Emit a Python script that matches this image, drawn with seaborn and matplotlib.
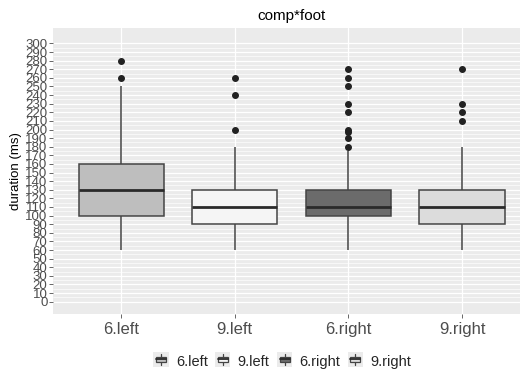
import numpy as np
import pandas as pd
import matplotlib
matplotlib.use('Agg')
import matplotlib.pyplot as plt
from matplotlib.lines import Line2D
from matplotlib.patches import Patch, Rectangle
import seaborn as sns

groups = ['6.left', '9.left', '6.right', '9.right']
dur_6_left = [60, 80, 90, 100, 110, 120, 130, 140, 150, 160, 250, 260, 280]
dur_9_left = [60, 70, 80, 90, 90, 100, 100, 110, 110, 110, 120, 120, 130,
              180, 200, 240, 260]
dur_6_right = [60, 70, 80, 80, 90, 90, 90, 100, 100, 100, 100,
               100, 100, 100, 100, 110, 110, 110, 110, 110, 110,
               110, 110, 120, 120, 120, 120, 120, 130, 130, 130,
               175, 180, 190, 197, 200, 220, 230, 250, 260, 270]
dur_9_right = [60, 70, 80, 80, 90, 90, 90, 100, 100, 110, 110,
               110, 120, 120, 120, 130, 180, 210, 220, 230, 270]
fills = ['#bebebe', '#f5f5f5', '#6b6b6b', '#dcdcdc']
y_ticks = list(range(0, 301, 10))

df = pd.concat([
    pd.DataFrame({'group': g, 'duration': d})
    for g, d in zip(groups, [dur_6_left, dur_9_left, dur_6_right, dur_9_right])
], ignore_index=True)

sns.set_theme(style='darkgrid')
plt.rcParams['font.family'] = ['Liberation Sans', 'DejaVu Sans']

edge = '#444444'


class BoxKey:
    # ggplot-like boxplot legend key
    def legend_artist(self, legend, orig_handle, fontsize, handlebox):
        x0, y0 = handlebox.xdescent, handlebox.ydescent
        w, h = handlebox.width, handlebox.height
        tr = handlebox.get_transform()
        bg = Rectangle((x0 - 1, y0 - 1), w + 2, h + 2, facecolor='#ebebeb',
                       edgecolor='none', transform=tr)
        whisk = Line2D([x0 + w / 2, x0 + w / 2], [y0 + 0.05 * h, y0 + 0.95 * h],
                       color=edge, linewidth=0.9, transform=tr)
        box = Rectangle((x0 + 0.1 * w, y0 + 0.27 * h), 0.8 * w, 0.46 * h,
                        facecolor=orig_handle.get_facecolor(), edgecolor=edge,
                        linewidth=0.9, transform=tr)
        med = Line2D([x0 + 0.1 * w, x0 + 0.9 * w], [y0 + h / 2, y0 + h / 2],
                     color='#2a2a2a', linewidth=1.3, transform=tr)
        for a in (bg, whisk, box, med):
            handlebox.add_artist(a)
        return box


fig = plt.figure(figsize=(5.2, 3.71), dpi=100)
ax = fig.add_axes([53 / 520, 57 / 371, 467 / 520, 286 / 371])
ax.set_facecolor('#ebebeb')

sns.boxplot(data=df, x='group', y='duration', hue='group', order=groups,
            hue_order=groups, palette=dict(zip(groups, fills)), width=0.75,
            linewidth=1.1, linecolor=edge, showcaps=False, legend=False,
            medianprops=dict(color='#2a2a2a', linewidth=2.0),
            flierprops=dict(marker='o', markersize=4.0, markerfacecolor='#222222',
                            markeredgecolor='#222222'),
            ax=ax)

ax.set_xlim(-0.6, 3.51)
ax.set_ylim(-14.3, 317.9)
ax.set_yticks(y_ticks)
ax.set_yticklabels([str(v) for v in y_ticks])
ax.set_yticks(np.arange(5, 300, 10), minor=True)
ax.grid(which='major', color='white', linewidth=0.9)
ax.grid(which='minor', axis='y', color='white', linewidth=0.45)
ax.set_axisbelow(True)
for s in ax.spines.values():
    s.set_visible(False)

ax.tick_params(axis='y', which='major', labelsize=9.5, colors='#4d4d4d',
               length=3, width=0.6, pad=1, left=True)
ax.tick_params(axis='y', which='minor', length=0, left=False)
ax.tick_params(axis='x', labelsize=12, colors='#4d4d4d', length=3, width=0.6,
               pad=3, bottom=True)
for lbl in ax.get_yticklabels() + ax.get_xticklabels():
    lbl.set_color('#4d4d4d')

ax.set_xlabel('')
ax.set_ylabel('duration (ms)', fontsize=9.5, color='black', labelpad=2)
fig.text(291.5 / 520, 1 - 16 / 371, 'comp*foot', ha='center', va='center',
         fontsize=11, color='black')

handles = [Patch(facecolor=c) for c in fills]
fig.legend(handles, groups, handler_map={Patch: BoxKey()},
           loc='center', bbox_to_anchor=(283 / 520, 1 - 362 / 371), ncol=4,
           frameon=False, fontsize=10.5, handlelength=0.85, handleheight=0.85,
           handletextpad=0.6, columnspacing=0.6)

fig.savefig('out.png', dpi=100)
